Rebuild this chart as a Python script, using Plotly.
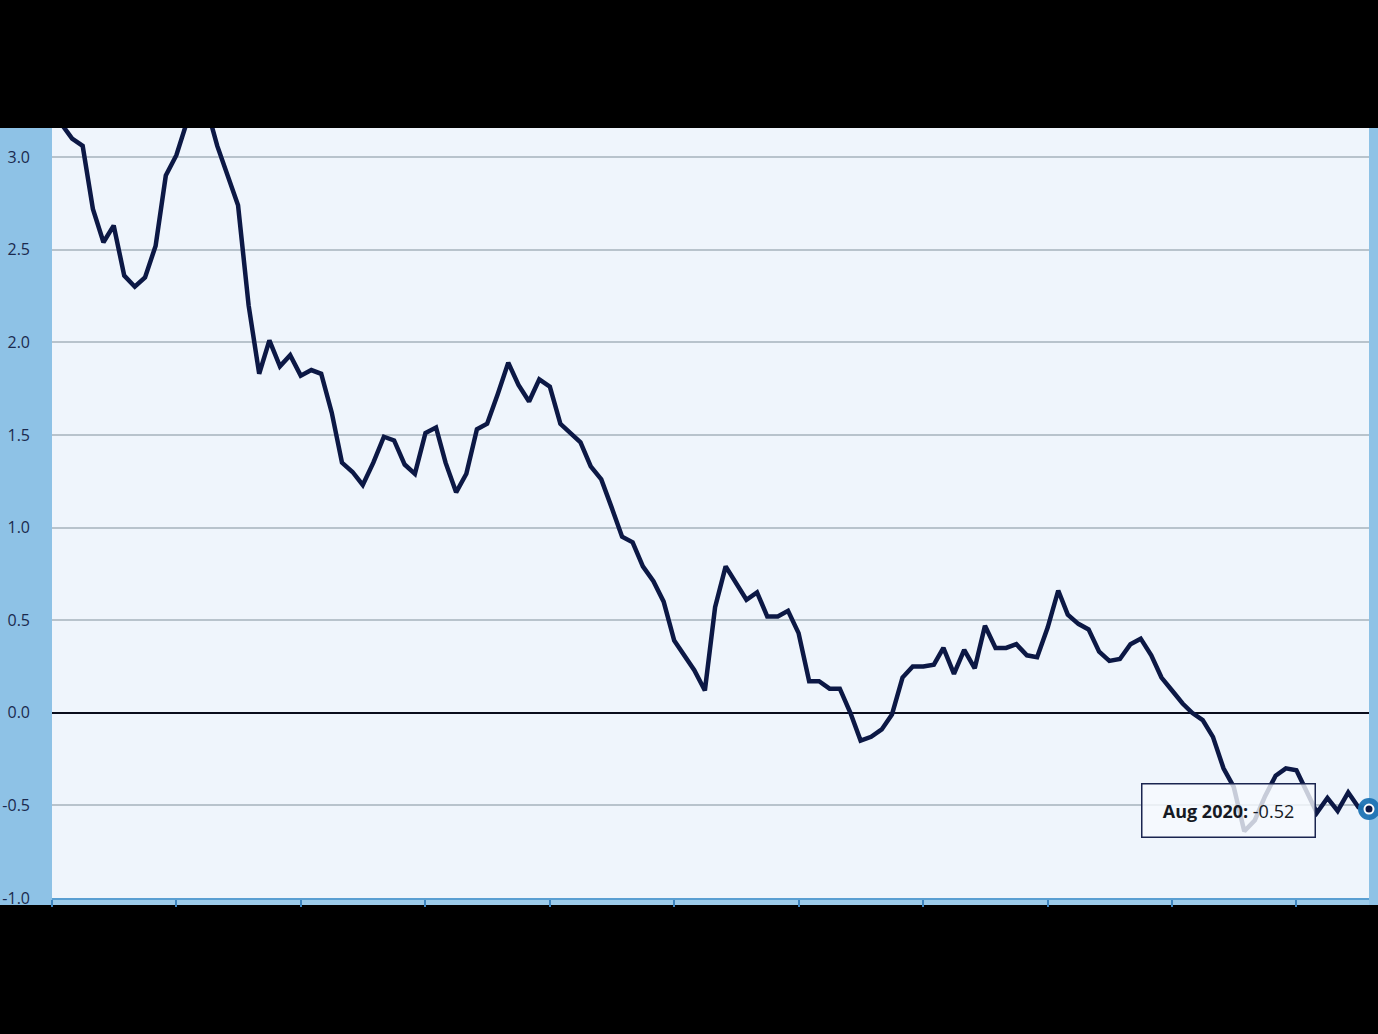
import pandas as pd
import plotly.graph_objects as go

# Monthly values, Jan 2010 - Aug 2020
y2010 = [3.30, 3.17, 3.10, 3.06, 2.72, 2.54, 2.63, 2.36, 2.30, 2.35, 2.52, 2.90]
y2011 = [3.01, 3.19, 3.32, 3.26, 3.06, 2.90, 2.74, 2.20, 1.83, 2.01, 1.87, 1.93]
y2012 = [1.82, 1.85, 1.83, 1.62, 1.35, 1.30, 1.23, 1.35, 1.49, 1.47, 1.34, 1.29]
y2013 = [1.51, 1.54, 1.35, 1.19, 1.29, 1.53, 1.56, 1.72, 1.89, 1.77, 1.68, 1.80]
y2014 = [1.76, 1.56, 1.51, 1.46, 1.33, 1.26, 1.11, 0.95, 0.92, 0.79, 0.71, 0.60]
y2015 = [0.39, 0.31, 0.23, 0.12, 0.57, 0.79, 0.70, 0.61, 0.65, 0.52, 0.52, 0.55]
y2016 = [0.43, 0.17, 0.17, 0.13, 0.13, 0.00, -0.15, -0.13, -0.09, -0.01, 0.19, 0.25]
y2017 = [0.25, 0.26, 0.35, 0.21, 0.34, 0.24, 0.47, 0.35, 0.35, 0.37, 0.31, 0.30]
y2018 = [0.46, 0.66, 0.53, 0.48, 0.45, 0.33, 0.28, 0.29, 0.37, 0.40, 0.31, 0.19]
y2019 = [0.12, 0.05, 0.00, -0.04, -0.13, -0.30, -0.40, -0.64, -0.58, -0.45, -0.34, -0.30]
y2020 = [-0.31, -0.43, -0.54, -0.46, -0.53, -0.43, -0.51, -0.52]

values = y2010 + y2011 + y2012 + y2013 + y2014 + y2015 + y2016 + y2017 + y2018 + y2019 + y2020
months = pd.date_range("2010-01-01", periods=len(values), freq="MS")

y_ticks = [-1.0, -0.5, 0.0, 0.5, 1.0, 1.5, 2.0, 2.5, 3.0]
hover_label = "Aug 2020"

W, H = 1378, 1034
L, R, T, B = 52, 9, 128, 136
pw = W - L - R
ph = H - T - B

NAVY = "#0c1845"
STRIP = "#8ec2e6"

fig = go.Figure()

fig.add_trace(go.Scatter(
    x=months, y=values, mode="lines",
    line=dict(color=NAVY, width=4.5),
    hoverinfo="skip", showlegend=False,
))

# highlighted last point
fig.add_trace(go.Scatter(
    x=[months[-1]], y=[values[-1]], mode="markers",
    marker=dict(size=22, color="rgba(30,115,180,0.95)"),
    cliponaxis=False, showlegend=False, hoverinfo="skip",
))
fig.add_trace(go.Scatter(
    x=[months[-1]], y=[values[-1]], mode="markers",
    marker=dict(size=9, color=NAVY, line=dict(color="white", width=2)),
    cliponaxis=False, showlegend=False, hoverinfo="skip",
))

# blue frame strips around the plot area
sx = L / pw
rx = R / pw
by = 7 / ph
fig.add_shape(type="rect", xref="paper", yref="paper", x0=-sx, x1=0, y0=-by, y1=1,
              fillcolor=STRIP, line_width=0, layer="below")
fig.add_shape(type="rect", xref="paper", yref="paper", x0=1, x1=1 + rx, y0=-by, y1=1,
              fillcolor=STRIP, line_width=0, layer="below")
fig.add_shape(type="rect", xref="paper", yref="paper", x0=0, x1=1, y0=-by, y1=0,
              fillcolor="#9ccbea", line_width=0, layer="below")

# tooltip box
fig.add_annotation(
    xref="paper", yref="y", x=(1228 - L) / pw, y=-0.53,
    xanchor="center", yanchor="middle",
    text=f"<b>{hover_label}:</b> {values[-1]:.2f}",
    showarrow=False,
    font=dict(family="Open Sans, sans-serif", size=18, color="#161a24"),
    bgcolor="rgba(246,250,254,0.8)",
    bordercolor="#1a2550", borderwidth=1.5, borderpad=11,
    width=150, height=30,
)

fig.update_layout(
    width=W, height=H,
    margin=dict(l=L, r=R, t=T, b=B),
    paper_bgcolor="black",
    plot_bgcolor="#eff5fc",
    font=dict(family="Open Sans, sans-serif"),
    xaxis=dict(
        range=[months[0], months[-1]],
        showgrid=False, zeroline=False,
        showline=True, linecolor="#5a9fd2", linewidth=2,
        tick0="2010-01-01", dtick="M12",
        ticks="outside", ticklen=7, tickwidth=1.5, tickcolor="#3f86c0",
        showticklabels=False, automargin=False,
    ),
    yaxis=dict(
        range=[-1.0, 3.0 + 29 / 185],
        tickvals=y_ticks,
        ticktext=[f"{v:.1f}" for v in y_ticks],
        showgrid=True, gridcolor="#b8c3cc", gridwidth=1.5,
        zeroline=True, zerolinecolor="#0a0d1c", zerolinewidth=2,
        showline=False, automargin=False,
        ticklabelstandoff=21,
        tickfont=dict(size=16, color="#1b2a4e"),
    ),
)

fig.write_html("out.html", config={"displayModeBar": False},
               post_script="document.body.style.margin='0';")
